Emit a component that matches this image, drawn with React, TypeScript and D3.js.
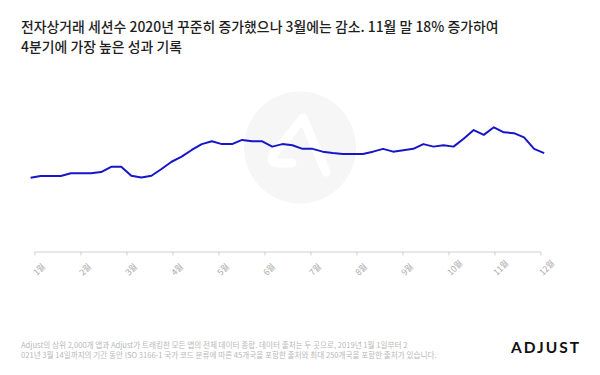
import React, { useEffect, useRef } from "react";
import * as d3 from "d3";

const titleLines = [
  "전자상거래 세션수 2020년 꾸준히 증가했으나 3월에는 감소. 11월 말 18% 증가하여",
  "4분기에 가장 높은 성과 기록",
];
const footerLines = [
  "Adjust의 상위 2,000개 앱과 Adjust가 트래킹한 모든 앱의 전체 데이터 종합. 데이터 출처는 두 곳으로, 2019년 1월 1일부터 2",
  "021년 3월 14일까지의 기간 동안 ISO 3166-1 국가 코드 분류에 따른 45개국을 포함한 출처와 최대 250개국을 포함한 출처가 있습니다.",
];
const months = ["1월", "2월", "3월", "4월", "5월", "6월", "7월", "8월", "9월", "10월", "11월", "12월"];
// weekly session index (first week = 100)
const sessions = [
  100, 100.6, 100.6, 100.6, 101.6, 101.6, 101.6, 102.0, 103.9, 103.9,
  100.7, 100.1, 100.7, 103.1, 105.7, 107.5, 109.9, 112.0, 113.0, 112.0,
  112.0, 113.5, 113.0, 113.0, 111.1, 112.0, 111.6, 110.3, 110.3, 109.3,
  108.8, 108.5, 108.5, 108.5, 109.3, 110.3, 109.3, 109.8, 110.3, 112.0,
  111.1, 111.6, 111.1, 113.9, 117.0, 115.3, 118.0, 116.2, 115.9, 114.4,
  110.3, 108.8,
];

const W = 600;
const H = 375;

export default function App() {
  const axisRef = useRef<SVGGElement>(null);

  const x = d3.scaleLinear().domain([0, sessions.length - 1]).range([30.6, 544.2]);
  const y = d3.scaleLinear().domain([100, 118]).range([177.7, 127.3]);
  const monthScale = d3.scalePoint<string>().domain(months).range([34.4, 540.4]);
  const line = d3
    .line<number>()
    .x((_, i) => x(i))
    .y((d) => y(d));

  useEffect(() => {
    if (!axisRef.current) return;
    const g = d3.select(axisRef.current);
    g.selectAll("*").remove();
    g.call(d3.axisBottom(monthScale).tickSize(4).tickSizeOuter(0) as any);
    g.select(".domain").attr("stroke", "#d0d0d0");
    g.selectAll(".tick line").attr("stroke", "#d0d0d0");
    g.selectAll(".tick text")
      .attr("fill", "#a8a8a8")
      .attr("font-size", 8.5)
      .attr("font-family", "'Noto Sans CJK KR', sans-serif")
      .attr("text-anchor", "start")
      .attr("dy", 0)
      .attr("y", 0)
      .attr("transform", "translate(2,24.5) rotate(-45)");
  }, []);

  return (
    <svg
      width={W}
      height={H}
      style={{ position: "absolute", left: 0, top: 0, background: "#fff" }}
      fontFamily="'Noto Sans CJK KR', sans-serif"
    >
      <rect width={W} height={H} fill="#fff" />
      {titleLines.map((t, i) => (
        <text key={i} x={21} y={31.5 + i * 20.5} fontSize={13.9} fontWeight={500} fill="#1e1e1e">
          {t}
        </text>
      ))}
      <circle cx={300} cy={147.5} r={56} fill="#f6f6f6" />
      <path
        d="M 326 172 L 303 118 L 274 154 Q 269 163 279 163 L 292 163"
        fill="none"
        stroke="#ffffff"
        strokeWidth={9}
        strokeLinecap="round"
        strokeLinejoin="round"
      />
      <g ref={axisRef} transform="translate(0,251.5)" />
      <path d={line(sessions) || ""} fill="none" stroke="#1616c8" strokeWidth={2} strokeLinejoin="round" />
      {footerLines.map((t, i) => (
        <text key={i} x={21} y={347.5 + i * 10.5} fontSize={7.6} fill="#b8b8b8">
          {t}
        </text>
      ))}
      <text x={511} y={353} fontSize={15.5} fontWeight={700} fill="#111" letterSpacing={2} fontFamily="Lato, sans-serif">
        ADJUST
      </text>
    </svg>
  );
}
